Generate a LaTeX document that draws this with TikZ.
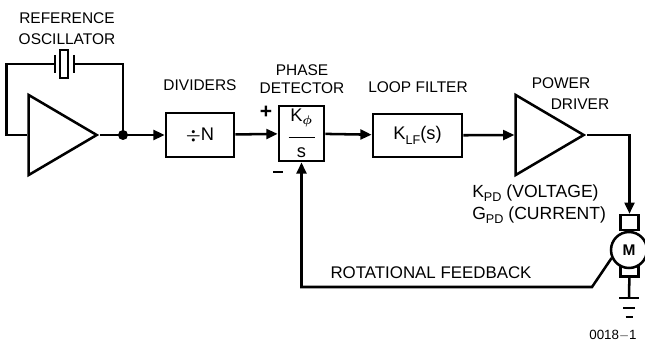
\documentclass[tikz,border=0pt]{standalone}
\usepackage{amsmath}
\usepackage{fontspec}
\setmainfont{Liberation Sans}
\usetikzlibrary{arrows.meta, positioning, shapes.geometric, calc}

\newcommand{\lowsub}[1]{\raisebox{-0.45ex}{\small #1}}

\begin{document}
\begin{tikzpicture}[x=0.025cm, y=-0.025cm, line width=1.8pt,
        >={Triangle[length=8pt, width=7pt]},
        block/.style={draw, rectangle, inner sep=0pt, font=\fontsize{13}{15}\selectfont},
        amp/.style={draw, isosceles triangle, isosceles triangle stretches, inner sep=0pt,
            minimum width=2.0cm, minimum height=1.7cm},
        blabel/.style={font=\fontsize{11}{13}\selectfont, inner sep=0pt, align=center}]

        \useasboundingbox (0,0) rectangle (645,346);

        % Reference oscillator
        \node[amp, anchor=apex] (osc) at (100,135) {};
        \node[draw, rectangle, inner sep=0pt, minimum width=0.2cm, minimum height=0.7cm] (xtal) at (64,64) {};
        \coordinate (xtalL) at ($(xtal.center)+(-9,0)$);
        \coordinate (xtalR) at ($(xtal.center)+(10,0)$);
        \draw ($(xtalL)+(0,-9)$) -- ++(0,18);
        \draw ($(xtalR)+(0,-9)$) -- ++(0,18);
        \coordinate (dot) at (123,135);
        \node[blabel] (osclbl) at (67,29) {REFERENCE\\[2pt]OSCILLATOR};

        % Forward path
        \node[block, minimum width=1.7cm, minimum height=1.1cm] (div) at (200,135) {$\boldsymbol{\div}$N};
        \node[block, minimum width=1.13cm, minimum height=1.38cm, align=center] (pd) at (301.5,133.5)
            {K$_{\boldsymbol{\phi}}$\\[-3pt]\rule{0.65cm}{1pt}\\[-1pt]s};
        \node[block, minimum width=2.23cm, minimum height=1.08cm] (lf) at (417.5,135.5) {K\lowsub{LF}(s)};
        \node[amp, anchor=apex] (drv) at (587,135) {};

        % Motor
        \node[draw, rectangle, inner sep=0pt, minimum width=0.45cm, minimum height=0.37cm] (brT) at (629.5,222.5) {};
        \node[draw, rectangle, inner sep=0pt, minimum width=0.45cm, minimum height=0.27cm] (brB) at (629.5,271) {};
        \node[draw, circle, fill=white, inner sep=0pt, minimum size=0.9cm, font=\fontsize{11}{13}\selectfont\bfseries] (mot) at (629,250) {M};
        \coordinate (gnd) at (629,298);
        \coordinate (fbA) at (592,287);

        % Labels
        \node[blabel] (divlbl) at (200,85) {DIVIDERS};
        \node[blabel] (pdlbl) at (302,79) {PHASE\\DETECTOR};
        \node[blabel] (lflbl) at (418,87) {LOOP FILTER};
        \node[blabel] (pwrlbl) at (561,83) {POWER};
        \node[blabel] (drvlbl) at (580,104) {DRIVER};
        \node[blabel, font=\fontsize{12.5}{16}\selectfont, align=left, anchor=west] (gainlbl) at (471,204)
            {K\lowsub{PD} (VOLTAGE)\\G\lowsub{PD} (CURRENT)};
        \node[blabel, font=\fontsize{15}{15}\selectfont\bfseries] (plus) at (266,112) {+};
        \node[blabel] (minus) at (278,172) {\rule{0.25cm}{0.07cm}};
        \node[blabel, font=\fontsize{12}{14}\selectfont] (fblbl) at (431,273) {ROTATIONAL FEEDBACK};
        \node[blabel, font=\fontsize{9.5}{11}\selectfont] (fig) at (613,335) {0018$-$1};

        % Connections
        \draw (osc.lower side) -- ++(-21,0) |- (xtalL);
        \draw (xtalR) -| (dot);
        \draw (osc.apex) -- (dot);
        \fill (dot) circle (5);
        \draw[->] (dot) -- (div);
        \draw[->] (div) -- (pd);
        \draw[->] (pd) -- (lf);
        \draw[->] (lf) -- (drv.lower side);
        \draw[->] (drv.apex) -| (brT.north);
        \draw (brB) -- (gnd);
        \draw ($(gnd)+(-10,0)$) -- ++(20,0);
        \draw ($(gnd)+(-6,10)$) -- ++(12,0);
        \draw ($(gnd)+(-3.5,19)$) -- ++(7,0);
        \draw[->] (mot.205) -- (fbA) -| (pd.south);
    \end{tikzpicture}
\end{document}
